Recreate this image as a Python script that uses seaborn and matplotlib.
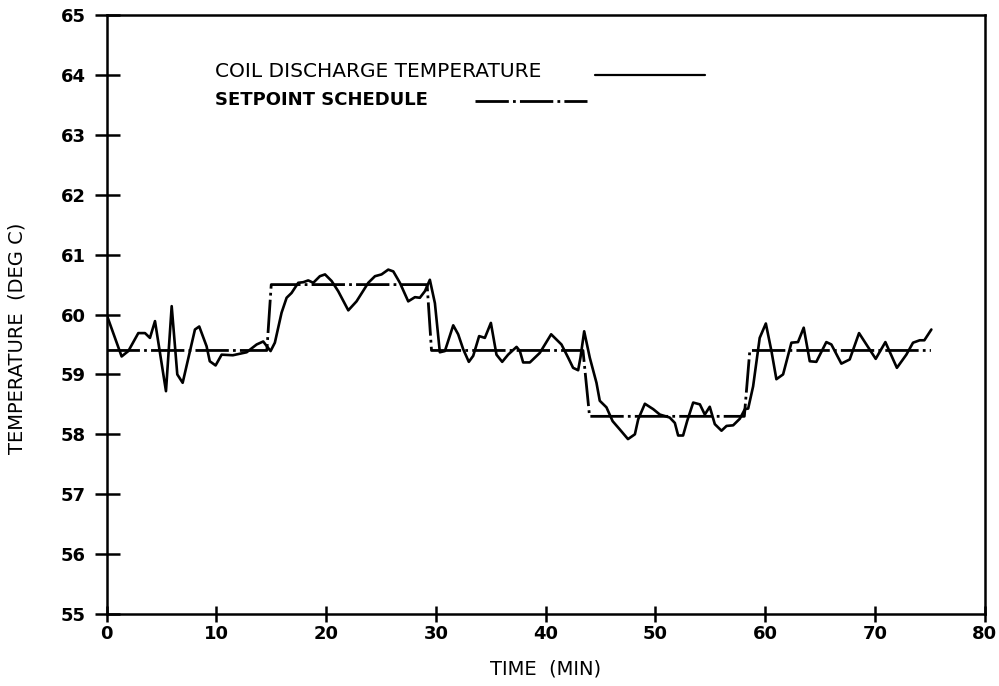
import matplotlib
matplotlib.use("Agg")
import matplotlib.pyplot as plt
import seaborn as sns
import pandas as pd
from matplotlib.lines import Line2D

# ---- data ----
coil_time = [0, 1.37, 1.98, 2.89, 3.5, 3.95, 4.41, 5.41, 5.93, 6.44, 6.93, 8.05, 8.44, 9.11, 9.4,
             9.93, 10.48, 11.5, 12.76, 13.67, 14.27, 14.6, 14.94, 15.33, 15.94, 16.4, 16.85, 17.46,
             17.92, 18.37, 18.83, 19.43, 19.9, 20.5, 21.1, 22.02, 22.77, 23.84, 24.45, 25.05, 25.66,
             26.12, 26.72, 27.48, 28.09, 28.54, 29.0, 29.45, 29.91, 30.36, 30.82, 31.58, 32.03, 32.49,
             33.0, 33.4, 33.94, 34.46, 35.01, 35.52, 36.04, 36.58, 37.35, 37.65, 37.95, 38.56, 39.47,
             40.5, 41.44, 42.05, 42.5, 42.96, 43.17, 43.51, 44.02, 44.63, 44.93, 45.54, 46.1, 46.76,
             47.5, 48.13, 48.43, 49.04, 49.8, 50.4, 51.3, 51.77, 52.07, 52.52, 52.89, 53.44, 54.05,
             54.5, 54.95, 55.41, 56.02, 56.48, 57.08, 57.69, 58.15, 58.45, 58.9, 59.5, 60.06, 60.57,
             61.02, 61.63, 62.39, 62.99, 63.51, 64.06, 64.66, 65.57, 66.03, 66.94, 67.7, 68.55, 69.22,
             70.07, 70.95, 72.0, 72.86, 73.47, 74.08, 74.5, 75.14]
coil_temp = [60.0, 59.3, 59.39, 59.69, 59.69, 59.61, 59.89, 58.72, 60.14, 59.0, 58.86, 59.75, 59.8,
             59.47, 59.22, 59.15, 59.33, 59.32, 59.37, 59.5, 59.55, 59.47, 59.39, 59.53, 60.03, 60.28,
             60.36, 60.53, 60.54, 60.57, 60.53, 60.64, 60.67, 60.56, 60.39, 60.07, 60.22, 60.53, 60.64,
             60.67, 60.75, 60.72, 60.53, 60.22, 60.29, 60.28, 60.39, 60.58, 60.19, 59.37, 59.39, 59.82,
             59.67, 59.42, 59.21, 59.31, 59.64, 59.61, 59.86, 59.33, 59.21, 59.33, 59.46, 59.39, 59.2,
             59.2, 59.36, 59.67, 59.5, 59.28, 59.11, 59.07, 59.28, 59.72, 59.28, 58.86, 58.56, 58.45,
             58.22, 58.08, 57.92, 58.0, 58.25, 58.51, 58.42, 58.33, 58.28, 58.19, 57.98, 57.98, 58.22,
             58.53, 58.5, 58.33, 58.46, 58.17, 58.06, 58.14, 58.15, 58.26, 58.42, 58.43, 58.8, 59.61,
             59.85, 59.39, 58.92, 59.0, 59.53, 59.54, 59.78, 59.22, 59.21, 59.54, 59.5, 59.18, 59.25,
             59.69, 59.5, 59.26, 59.54, 59.11, 59.33, 59.53, 59.57, 59.57, 59.75]

set_time = [0, 14.6, 15.0, 29.2, 29.6, 43.4, 44.0, 58.1, 58.6, 75.1]
set_temp = [59.4, 59.4, 60.5, 60.5, 59.4, 59.4, 58.3, 58.3, 59.4, 59.4]

x_ticks = [0, 10, 20, 30, 40, 50, 60, 70, 80]
y_ticks = [55, 56, 57, 58, 59, 60, 61, 62, 63, 64, 65]
series_names = ["COIL DISCHARGE TEMPERATURE", "SETPOINT SCHEDULE"]

coil_df = pd.DataFrame({"t": coil_time, "T": coil_temp})
set_df = pd.DataFrame({"t": set_time, "T": set_temp})

sns.set_style("ticks")
plt.rcParams["font.family"] = ["DejaVu Sans"]
plt.rcParams["text.color"] = "black"
plt.rcParams["axes.labelcolor"] = "black"
plt.rcParams["xtick.color"] = "black"
plt.rcParams["ytick.color"] = "black"

fig = plt.figure(figsize=(9.99, 6.86), dpi=100)
ax = fig.add_axes([0.1067, 0.105, 0.879, 0.873])

dash = (0, (12, 1.5, 1, 1.5))
sns.lineplot(data=set_df, x="t", y="T", ax=ax, color="black", lw=2.0,
             estimator=None, sort=False, linestyle=dash)
sns.lineplot(data=coil_df, x="t", y="T", ax=ax, color="black", lw=1.9,
             estimator=None, sort=False)

ax.set_xlim(0, 80)
ax.set_ylim(55, 65)
ax.set_xticks(x_ticks)
ax.set_yticks(y_ticks)
ax.tick_params(axis="y", direction="inout", length=18, width=1.8, labelsize=13, pad=6,
               colors="black")
ax.tick_params(axis="x", direction="inout", length=12, width=1.8, labelsize=13, pad=2,
               colors="black")
for lab in ax.get_xticklabels() + ax.get_yticklabels():
    lab.set_fontweight("bold")
for sp in ax.spines.values():
    sp.set_visible(True)
    sp.set_linewidth(1.8)
    sp.set_color("black")

ax.set_xlabel("TIME  (MIN)", fontsize=14, labelpad=12, color="black")
ax.set_ylabel("TEMPERATURE  (DEG C)", fontsize=14, color="black")
ax.yaxis.set_label_coords(-0.091, 0.46)

# custom legend: text followed by line sample
ax.text(0.1235, 0.905, series_names[0], transform=ax.transAxes, fontsize=14.5,
        va="center", ha="left", color="black")
ax.add_line(Line2D([0.556, 0.681], [0.9, 0.9], transform=ax.transAxes,
                   color="black", lw=1.6))
ax.text(0.1235, 0.858, series_names[1], transform=ax.transAxes, fontsize=13,
        fontweight="bold", va="center", ha="left", color="black")
ax.add_line(Line2D([0.419, 0.547], [0.857, 0.857], transform=ax.transAxes,
                   color="black", lw=2.0, linestyle=dash))

fig.savefig("out.png", dpi=100)
